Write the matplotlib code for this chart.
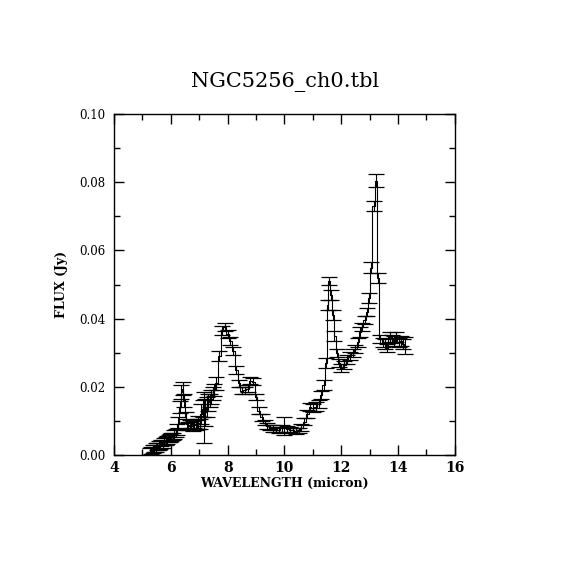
import numpy as np
import matplotlib
matplotlib.use("Agg")
import matplotlib.pyplot as plt
from matplotlib.ticker import MultipleLocator, FormatStrFormatter

# wavelength (micron), flux (Jy) and 1-sigma errors
wave = [5.27, 5.32, 5.37, 5.42, 5.47, 5.52, 5.57, 5.62, 5.67, 5.72,
        5.77, 5.82, 5.87, 5.92, 5.97, 6.02, 6.07, 6.12, 6.17, 6.22,
        6.27, 6.32, 6.37, 6.42, 6.47, 6.52, 6.57, 6.62, 6.67, 6.72,
        6.77, 6.82, 6.87, 6.92, 6.97, 7.02, 7.07, 7.12, 7.17, 7.22,
        7.27, 7.32, 7.37, 7.42, 7.47, 7.52,
        7.60, 7.70, 7.80, 7.90, 8.00, 8.10, 8.20, 8.30, 8.40, 8.50,
        8.60, 8.70, 8.80, 8.90, 9.00, 9.10, 9.20, 9.30, 9.40, 9.50,
        9.60, 9.70, 9.80, 9.90, 10.00, 10.10, 10.20, 10.30, 10.40, 10.50,
        10.60, 10.70, 10.80, 10.90, 11.00, 11.10, 11.20, 11.30, 11.38, 11.46,
        11.52, 11.58, 11.64, 11.70, 11.76, 11.84, 11.92, 12.00, 12.10, 12.20,
        12.30, 12.40, 12.50, 12.58, 12.66, 12.74, 12.82, 12.90, 12.98, 13.06,
        13.14, 13.22, 13.30, 13.38, 13.46, 13.54, 13.62, 13.70, 13.78, 13.86,
        13.94, 14.02, 14.10, 14.18, 14.26]

flux = [0.0010, 0.0012, 0.0018, 0.0020, 0.0022, 0.0025, 0.0028, 0.0030, 0.0035, 0.0033,
        0.0040, 0.0042, 0.0045, 0.0048, 0.0050, 0.0052, 0.0055, 0.0060, 0.0065, 0.0075,
        0.0095, 0.0140, 0.0185, 0.0195, 0.0160, 0.0110, 0.0090, 0.0085, 0.0088, 0.0090,
        0.0085, 0.0090, 0.0088, 0.0092, 0.0095, 0.0090, 0.0120, 0.0135, 0.0110, 0.0125,
        0.0140, 0.0155, 0.0160, 0.0170, 0.0180, 0.0190,
        0.0210, 0.0290, 0.0365, 0.0375, 0.0355, 0.0335, 0.0305, 0.0250, 0.0210, 0.0188,
        0.0190, 0.0195, 0.0218, 0.0215, 0.0170, 0.0130, 0.0110, 0.0095, 0.0085, 0.0080,
        0.0078, 0.0075, 0.0072, 0.0078, 0.0085, 0.0076, 0.0074, 0.0072, 0.0070, 0.0072,
        0.0080, 0.0098, 0.0120, 0.0140, 0.0138, 0.0142, 0.0150, 0.0175, 0.0205, 0.0270,
        0.0440, 0.0510, 0.0470, 0.0410, 0.0350, 0.0300, 0.0270, 0.0255, 0.0265, 0.0280,
        0.0290, 0.0300, 0.0310, 0.0330, 0.0360, 0.0375, 0.0395, 0.0420, 0.0460, 0.0550,
        0.0730, 0.0805, 0.0520, 0.0340, 0.0330, 0.0325, 0.0315, 0.0345, 0.0340, 0.0335,
        0.0345, 0.0330, 0.0335, 0.0325, 0.0320]

err = [0.0010, 0.0010, 0.0012, 0.0010, 0.0012, 0.0010, 0.0012, 0.0012, 0.0010, 0.0012,
       0.0010, 0.0012, 0.0012, 0.0010, 0.0012, 0.0012, 0.0010, 0.0012, 0.0012, 0.0015,
       0.0015, 0.0018, 0.0020, 0.0018, 0.0020, 0.0015, 0.0015, 0.0012, 0.0015, 0.0012,
       0.0015, 0.0012, 0.0015, 0.0015, 0.0020, 0.0015, 0.0030, 0.0025, 0.0075, 0.0040,
       0.0030, 0.0025, 0.0020, 0.0020, 0.0020, 0.0018,
       0.0018, 0.0015, 0.0012, 0.0012, 0.0012, 0.0012, 0.0012, 0.0012, 0.0010, 0.0010,
       0.0010, 0.0010, 0.0010, 0.0010, 0.0010, 0.0010, 0.0010, 0.0008, 0.0008, 0.0008,
       0.0010, 0.0008, 0.0008, 0.0010, 0.0025, 0.0008, 0.0008, 0.0008, 0.0008, 0.0008,
       0.0010, 0.0010, 0.0012, 0.0012, 0.0012, 0.0012, 0.0012, 0.0012, 0.0015, 0.0015,
       0.0015, 0.0012, 0.0015, 0.0015, 0.0015, 0.0012, 0.0012, 0.0012, 0.0012, 0.0012,
       0.0012, 0.0012, 0.0012, 0.0012, 0.0015, 0.0012, 0.0012, 0.0012, 0.0015, 0.0015,
       0.0015, 0.0018, 0.0015, 0.0012, 0.0012, 0.0015, 0.0012, 0.0015, 0.0012, 0.0015,
       0.0015, 0.0012, 0.0015, 0.0015, 0.0025]

plt.rcParams["font.family"] = ["DejaVu Serif"]

fig = plt.figure(figsize=(5.7, 5.7), dpi=100)
ax = fig.add_axes([0.2, 0.2018, 0.598, 0.598])

ax.plot(wave, flux, color="black", linewidth=0.8, drawstyle="steps-mid")
ax.errorbar(wave, flux, yerr=err, fmt="none", ecolor="black",
            elinewidth=0.8, capsize=6, capthick=0.9)

ax.set_xlim(4, 16)
ax.set_ylim(0, 0.10)
ax.xaxis.set_major_locator(MultipleLocator(2))
ax.xaxis.set_minor_locator(MultipleLocator(1))
ax.yaxis.set_major_locator(MultipleLocator(0.02))
ax.yaxis.set_minor_locator(MultipleLocator(0.01))
ax.yaxis.set_major_formatter(FormatStrFormatter("%.2f"))

ax.tick_params(which="both", direction="in", top=True, right=True, width=1.0)
ax.tick_params(which="major", length=7)
ax.tick_params(which="minor", length=4)
ax.tick_params(axis="y", labelsize=8.5, pad=6)
ax.tick_params(axis="x", labelsize=10, pad=4)
for lab in ax.get_xticklabels():
    lab.set_fontweight("bold")
for sp in ax.spines.values():
    sp.set_linewidth(1.0)

ax.set_xlabel("WAVELENGTH (micron)", fontsize=9, fontweight="bold", labelpad=2)
ax.set_ylabel("FLUX (Jy)", fontsize=9, fontweight="bold", labelpad=8)
fig.text(0.5, 0.856, "NGC5256_ch0.tbl", ha="center", va="center", fontsize=15)

fig.savefig("out.png", dpi=100)
